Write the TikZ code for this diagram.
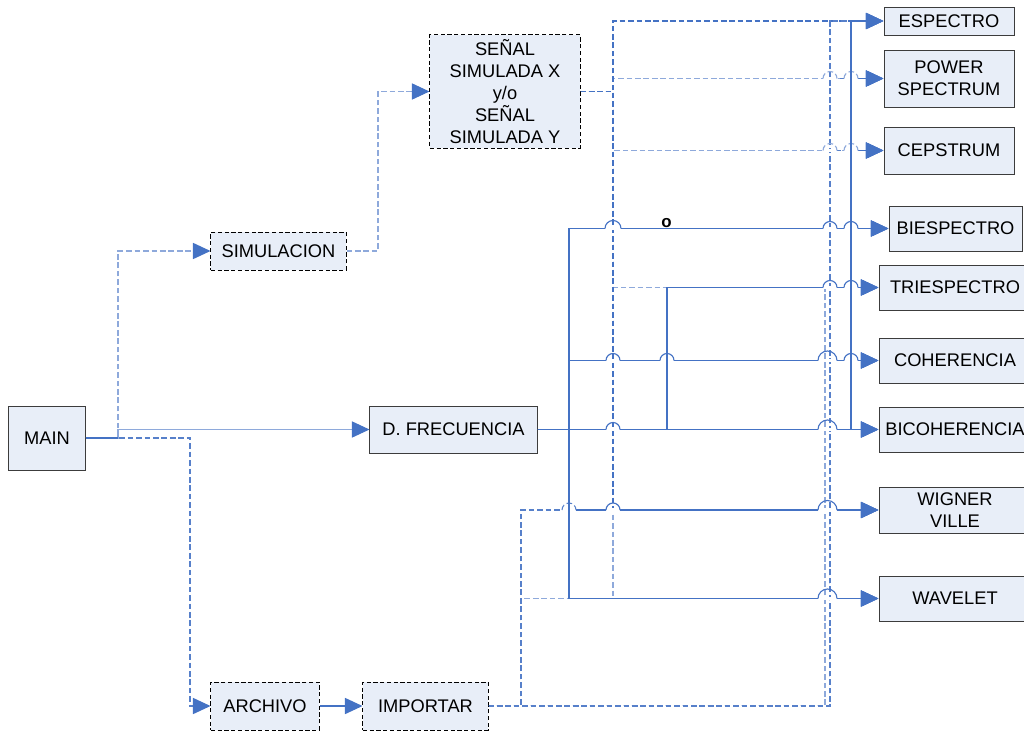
\documentclass[tikz,border=0pt]{standalone}
\usepackage{fontspec}
\setmainfont{Liberation Sans}
\usepackage{xcolor}
\usetikzlibrary{arrows.meta,positioning}
\definecolor{Wire}{HTML}{4472C4}
\definecolor{WireLight}{HTML}{8EA9DB}
\definecolor{BoxFill}{HTML}{E8EEF8}
\definecolor{BoxLine}{HTML}{3C3C3C}
\tikzset{
  block/.style={draw=BoxLine,fill=BoxFill,line width=0.7pt,inner sep=0pt,align=center,font=\fontsize{13}{15.6}\selectfont},
  dblock/.style={block,draw=black,dash pattern=on 3pt off 1.8pt},
  arrow/.style={-{Triangle[length=12.5pt,width=11.5pt,color=Wire]}},
  freqwire/.style={draw=Wire,line width=0.8pt},
  lightwire/.style={draw=WireLight,line width=0.8pt},
  dashwire/.style={draw=Wire!90,line width=0.75pt,dash pattern=on 4pt off 2pt},
  lightdash/.style={draw=WireLight,line width=0.8pt,dash pattern=on 4pt off 2pt},
  sigwire/.style={dashwire,draw=Wire},
  tag/.style={font=\bfseries\fontsize{12}{12}\selectfont,inner sep=0pt}
}
% line hop over a crossing wire: [radius]{x}{y}{style}
\newcommand{\linehop}[4][7]{%
  \fill[white] ({#2-#1},{#3-1.6}) rectangle ({#2+#1},{#3+1.6});
  \draw[#4] ({#2-#1},#3) arc[start angle=180,end angle=0,radius=#1*0.025cm];%
}

\begin{document}
\begin{tikzpicture}[x=0.025cm,y=-0.025cm]
  \useasboundingbox (0,0) rectangle (1024,730);
  \clip (0,0) rectangle (1024,730);
  % blocks
  \node[block,minimum width=1.9cm,minimum height=1.6cm] (main) at (47,438) {MAIN};
  \node[dblock,minimum width=3.375cm,minimum height=0.95cm] (simul) at (278.5,251) {SIMULACION};
  \node[dblock,minimum width=3.75cm,minimum height=2.825cm] (senal) at (505,91.5) {SEÑAL\\SIMULADA X\\y/o\\SEÑAL\\SIMULADA Y};
  \node[block,minimum width=4.175cm,minimum height=1.175cm] (frec) at (453.5,429.5) {D. FRECUENCIA};
  \node[dblock,minimum width=2.7cm,minimum height=1.2cm] (archivo) at (265,706) {ARCHIVO};
  \node[dblock,minimum width=3.125cm,minimum height=1.2cm] (importar) at (425.5,706) {IMPORTAR};
  % outputs
  \node[block,minimum width=3.25cm,minimum height=0.7cm] (esp) at (949,21) {ESPECTRO};
  \node[block,minimum width=3.25cm,minimum height=1.425cm] (pow) at (949,78.5) {POWER\\SPECTRUM};
  \node[block,minimum width=3.25cm,minimum height=1.175cm] (ceps) at (949,150.5) {CEPSTRUM};
  \node[block,minimum width=3.325cm,minimum height=1.125cm] (bies) at (955.5,228.5) {BIESPECTRO};
  \node[block,minimum width=3.8cm,minimum height=1.125cm] (tri) at (955,287.5) {TRIESPECTRO};
  \node[block,minimum width=3.8cm,minimum height=1.125cm] (coh) at (955,360.5) {COHERENCIA};
  \node[block,minimum width=3.8cm,minimum height=1.125cm] (bicoh) at (955,429.5) {BICOHERENCIA};
  \node[block,minimum width=3.8cm,minimum height=1.15cm] (wig) at (955,510) {WIGNER\\VILLE};
  \node[block,minimum width=3.8cm,minimum height=1.125cm] (wav) at (955,598.5) {WAVELET};
  % bends
  \coordinate (mj) at (118,438);
  \coordinate (aj) at (190,438);
  \coordinate (sj) at (378,251);
  \coordinate (xsig) at (613,91.5);
  \coordinate (fa) at (569,429.5);
  \coordinate (fb) at (667,429.5);
  \coordinate (fc) at (851,429.5);
  \coordinate (ia) at (521,706);
  \coordinate (ib) at (825,706);
  \coordinate (ic) at (830,706);
  % main branches
  \draw[lightdash,arrow] (main.east) -- (mj) |- (simul.west);
  \draw[dashwire,arrow] (main.east) -- (aj) |- (archivo.west);
  \draw[lightwire,arrow] (main.east) -- (mj) |- (frec.west);
  \draw[freqwire] (main.east) -- (mj);
  \draw[lightdash,arrow] (simul.east) -- (sj) |- (senal.west);
  \draw[freqwire,arrow] (archivo.east) -- (importar.west);
  % simulated signal
  \foreach \t in {pow,ceps,bies,tri,coh,bicoh,wav}
    \draw[lightdash,arrow] (senal.east) -- (xsig) |- (\t.west);
  \foreach \t in {esp,wig}
    \draw[sigwire,arrow] (senal.east) -- (xsig) |- (\t.west);
  % imported file
  \draw[lightdash,arrow] (importar.east) -- (ib) |- (tri.west);
  \draw[lightdash,arrow] (importar.east) -- (ia) |- (wav.west);
  \foreach \t in {esp,pow,ceps,bies,coh,bicoh}
    \draw[dashwire,arrow] (importar.east) -- (ic) |- (\t.west);
  \draw[dashwire,arrow] (importar.east) -- (ia) |- (wig.west);
  % frequency domain
  \foreach \t in {bies,coh,wig,wav}
    \draw[freqwire,arrow] (frec.east) -- (fa) |- (\t.west);
  \draw[freqwire,arrow] (frec.east) -- (bicoh.west);
  \draw[freqwire,arrow] (frec.east) -- (fb) |- (tri.west);
  \foreach \t in {esp,pow,ceps}
    \draw[freqwire,arrow] (frec.east) -- (fc) |- (\t.west);
  % hops
  \foreach \x/\y in {830/78.5,851/78.5,830/150.5,851/150.5}
    \linehop{\x}{\y}{lightdash};
  \foreach \x/\y/\r in {613/228.5/8,830/228.5/7,851/228.5/7,830/287.5/7,851/287.5/7,
      613/360.5/7,667/360.5/7,827.5/360.5/9.5,851/360.5/7,613/429.5/7,827.5/429.5/9.5,
      613/510/7,827.5/510/9.5,827.5/598.5/9.5}
    \linehop[\r]{\x}{\y}{freqwire};
  \linehop{569}{510}{dashwire};
  \draw[freqwire] (fa |- bies.west) -- (fa |- wav.west);
  \draw[freqwire] (fb |- tri.west) -- (fb);
  \draw[freqwire] (fc |- esp.west) -- (fc);
  \node[tag,anchor=base] (mark) at (666.5,227) {o};
\end{tikzpicture}
\end{document}
